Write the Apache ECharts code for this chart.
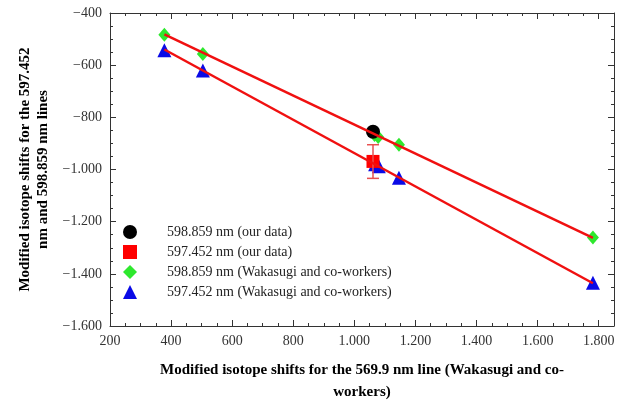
<!DOCTYPE html>
<html>
<head>
<meta charset="utf-8">
<script src="https://cdn.jsdelivr.net/npm/echarts@6/dist/echarts.min.js"></script>
<style>
  html, body { margin: 0; padding: 0; background: #fff; }
  #main { width: 643px; height: 408px; }
</style>
</head>
<body>
<div id="main"></div>
<script>
// data
var ourCircle = [[1061, -855]];                 // 598.859 nm (our data)
var ourSquare = [[1061, -969]];                 // 597.452 nm (our data)
var ourSquareErr = [[1061, -969, -905, -1034]]; // x, y, low, high
var wakDiamond = [[378, -483], [504, -557], [1066, -868], [1078, -875], [1146, -905], [1781, -1261]];
var wakTriangle = [[378, -543], [504, -620], [1068, -980], [1080, -988], [1146, -1032], [1781, -1434]];
var fitTop = [[378, -482], [1781, -1262]];
var fitBottom = [[378, -540], [1781, -1436]];
var legendNames = ['598.859 nm (our data)', '597.452 nm (our data)',
  '598.859 nm (Wakasugi and co-workers)', '597.452 nm (Wakasugi and co-workers)'];

var serif = '"Liberation Serif", "DejaVu Serif", serif';

function fmt(v) {
  var s = String(Math.abs(v)).replace(/\B(?=(\d{3})+(?!\d))/g, '.');
  return (v < 0 ? '\u2212' : '') + s;
}

function xAx(pos, interval, len, labels, line) {
  return {
    type: 'value', position: pos, min: 200, max: 1850, interval: interval,
    axisLine: { show: line, onZero: false, lineStyle: { color: '#333', width: 1 } },
    axisTick: { show: true, inside: true, length: len, lineStyle: { color: '#333' } },
    axisLabel: { show: labels, showMaxLabel: false, formatter: fmt, color: '#333',
      fontFamily: serif, fontSize: 14, margin: 8 },
    splitLine: { show: false }
  };
}
function yAx(pos, interval, len, labels, line) {
  return {
    type: 'value', position: pos, min: -1600, max: -400, interval: interval,
    axisLine: { show: line, onZero: false, lineStyle: { color: '#333', width: 1 } },
    axisTick: { show: true, inside: true, length: len, lineStyle: { color: '#333' } },
    axisLabel: { show: labels, formatter: fmt, color: '#333',
      fontFamily: serif, fontSize: 14, margin: 8 },
    splitLine: { show: false }
  };
}

var xMain = xAx('bottom', 200, 6, true, true);
xMain.name = 'Modified isotope shifts for the 569.9 nm line (Wakasugi and co-\nworkers)';
xMain.nameLocation = 'middle';
xMain.nameGap = 33;
xMain.nameTextStyle = { fontFamily: serif, fontSize: 15, fontWeight: 'bold', color: '#000', lineHeight: 22 };

var yMain = yAx('left', 200, 6, true, true);
yMain.name = 'Modified isotope shifts for the 597.452\nnm and 598.859 nm lines';
yMain.nameLocation = 'middle';
yMain.nameGap = 58;
yMain.nameTextStyle = { fontFamily: serif, fontSize: 15, fontWeight: 'bold', color: '#000', lineHeight: 18 };

var myChart = echarts.init(document.getElementById('main'));
var option = {
  animation: false,
  backgroundColor: '#fff',
  grid: { left: 110, right: 29, top: 13, bottom: 79 },
  legend: {
    data: legendNames,
    orient: 'vertical',
    left: 118, top: 220,
    itemWidth: 14, itemHeight: 14, itemGap: 6,
    textStyle: { fontFamily: serif, fontSize: 14, color: '#222', padding: [0, 0, 0, 25] }
  },
  xAxis: [
    xMain,
    xAx('top', 200, 6, false, true),
    xAx('bottom', 50, 3, false, false),
    xAx('top', 50, 3, false, false)
  ],
  yAxis: [
    yMain,
    yAx('right', 200, 6, false, true),
    yAx('left', 50, 3, false, false),
    yAx('right', 50, 3, false, false)
  ],
  series: [
    {
      name: legendNames[3], type: 'scatter', data: wakTriangle,
      symbol: 'triangle', symbolSize: 14, itemStyle: { color: '#0a0ae6', opacity: 1 }
    },
    {
      name: legendNames[2], type: 'scatter', data: wakDiamond,
      symbol: 'diamond', symbolSize: [12, 14], itemStyle: { color: '#2ee82e', opacity: 1 }
    },
    {
      type: 'custom', data: ourSquareErr, z: 3,
      renderItem: function (params, api) {
        var x = api.value(0);
        var lo = api.coord([x, api.value(2)]);
        var hi = api.coord([x, api.value(3)]);
        var w = 6;
        var st = { stroke: '#e85050', lineWidth: 1.5 };
        return {
          type: 'group', children: [
            { type: 'line', shape: { x1: lo[0], y1: lo[1], x2: hi[0], y2: hi[1] }, style: st },
            { type: 'line', shape: { x1: lo[0] - w, y1: lo[1], x2: lo[0] + w, y2: lo[1] }, style: st },
            { type: 'line', shape: { x1: hi[0] - w, y1: hi[1], x2: hi[0] + w, y2: hi[1] }, style: st }
          ]
        };
      }
    },
    {
      name: legendNames[1], type: 'scatter', data: ourSquare,
      symbol: 'rect', symbolSize: 13, itemStyle: { color: '#ff0000', opacity: 1 }
    },
    {
      name: legendNames[0], type: 'scatter', data: ourCircle,
      symbol: 'circle', symbolSize: 14, itemStyle: { color: '#000', opacity: 1 }
    },
    {
      type: 'line', data: fitTop, showSymbol: false, symbol: 'none', z: 5,
      lineStyle: { color: '#f01010', width: 2.5 }
    },
    {
      type: 'line', data: fitBottom, showSymbol: false, symbol: 'none', z: 5,
      lineStyle: { color: '#f01010', width: 2.5 }
    }
  ]
};
myChart.setOption(option);
</script>
</body>
</html>
